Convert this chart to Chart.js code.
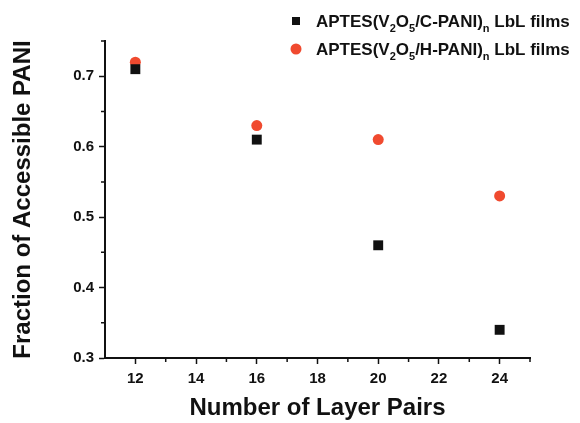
<!DOCTYPE html>
<html>
<head>
<meta charset="utf-8">
<script src="https://cdn.jsdelivr.net/npm/chart.js@4.4.1/dist/chart.umd.min.js"></script>
<style>
    html, body { margin: 0; padding: 0; background: #ffffff; }
    #wrap { width: 580px; height: 423px; position: relative; }
</style>
</head>
<body>
<div id="wrap"><canvas id="fractionChart"></canvas></div>
<script>
// ==========================================
// Accessible PANI fraction vs. layer pairs
// ==========================================

const layerPairs = [12, 16, 20, 24];
const cPaniFraction = [0.71, 0.61, 0.46, 0.34];
const hPaniFraction = [0.72, 0.63, 0.61, 0.53];

const xTickValues = [12, 14, 16, 18, 20, 22, 24];
const yTickValues = [0.3, 0.4, 0.5, 0.6, 0.7];
const xMinorValues = [13, 15, 17, 19, 21, 23, 25];
const yMinorValues = [0.35, 0.45, 0.55, 0.65, 0.75];

// legend text pieces: [text, isSubscript]
const legendC = [["APTES(V", false], ["2", true], ["O", false], ["5", true], ["/C-PANI)", false], ["n", true], [" LbL films", false]];
const legendH = [["APTES(V", false], ["2", true], ["O", false], ["5", true], ["/H-PANI)", false], ["n", true], [" LbL films", false]];

const RED = "#f04a2f";
const BLACK = "#111111";
const FONT = "'Liberation Sans', Arial, sans-serif";

function toPoints(xs, ys) {
    return xs.map((x, i) => ({ x: x, y: ys[i] }));
}

// small outward ticks between the labelled ones
const minorTicks = {
    id: "minorTicks",
    afterDraw(chart) {
        const c = chart.ctx;
        const xs = chart.scales.x;
        const ys = chart.scales.y;
        const area = chart.chartArea;
        c.save();
        c.strokeStyle = BLACK;
        c.lineWidth = 1.5;
        c.beginPath();
        xMinorValues.forEach(v => {
            const px = xs.getPixelForValue(v);
            c.moveTo(px, area.bottom);
            c.lineTo(px, area.bottom + 4);
        });
        yMinorValues.forEach(v => {
            const py = ys.getPixelForValue(v);
            c.moveTo(area.left, py);
            c.lineTo(area.left - 4, py);
        });
        c.stroke();
        c.restore();
    }
};

function drawRichLine(c, parts, x, y) {
    let cx = x;
    parts.forEach(([text, sub]) => {
        c.font = sub ? "bold 11px " + FONT : "bold 17px " + FONT;
        c.fillText(text, cx, sub ? y + 5 : y);
        cx += c.measureText(text).width;
    });
}

// legend with subscripts, drawn by hand
const richLegend = {
    id: "richLegend",
    afterDraw(chart) {
        const c = chart.ctx;
        c.save();
        c.fillStyle = BLACK;
        c.fillRect(292, 17, 8, 8);
        c.beginPath();
        c.fillStyle = RED;
        c.arc(296, 49, 5.5, 0, Math.PI * 2);
        c.fill();
        c.fillStyle = BLACK;
        c.textBaseline = "alphabetic";
        drawRichLine(c, legendC, 316, 27);
        drawRichLine(c, legendH, 316, 55);
        c.restore();
    }
};

const ctx = document.getElementById("fractionChart").getContext("2d");

const fractionChart = new Chart(ctx, {
    type: "scatter",
    data: {
        datasets: [{
            label: "APTES(V2O5/C-PANI)n LbL films",
            data: toPoints(layerPairs, cPaniFraction),
            pointStyle: "rect",
            pointRadius: 7,
            backgroundColor: BLACK,
            borderColor: BLACK,
            borderWidth: 0
        }, {
            label: "APTES(V2O5/H-PANI)n LbL films",
            data: toPoints(layerPairs, hPaniFraction),
            pointStyle: "circle",
            pointRadius: 5.5,
            backgroundColor: RED,
            borderColor: RED,
            borderWidth: 0
        }]
    },
    options: {
        responsive: true,
        maintainAspectRatio: false,
        animation: false,
        layout: {
            padding: { top: 41, right: 50, left: 0, bottom: 0 }
        },
        plugins: {
            legend: { display: false },
            tooltip: { enabled: false }
        },
        scales: {
            x: {
                type: "linear",
                min: 11,
                max: 25,
                afterBuildTicks: s => { s.ticks = xTickValues.map(v => ({ value: v })); },
                afterFit: s => { s.height = 65; },
                border: { display: true, color: BLACK, width: 2 },
                grid: { drawOnChartArea: false, drawTicks: true, tickLength: 6, tickColor: BLACK, tickWidth: 1.5 },
                ticks: {
                    color: BLACK,
                    padding: 6,
                    maxRotation: 0,
                    font: { family: FONT, size: 15, weight: "bold" }
                },
                title: {
                    display: true,
                    text: "Number of Layer Pairs",
                    color: BLACK,
                    padding: { top: 0, bottom: 0 },
                    font: { family: FONT, size: 24, weight: "bold" }
                }
            },
            y: {
                type: "linear",
                min: 0.3,
                max: 0.75,
                afterBuildTicks: s => { s.ticks = yTickValues.map(v => ({ value: v })); },
                afterFit: s => { s.width = 105; },
                border: { display: true, color: BLACK, width: 2 },
                grid: { drawOnChartArea: false, drawTicks: true, tickLength: 6, tickColor: BLACK, tickWidth: 1.5 },
                ticks: {
                    color: BLACK,
                    padding: 5,
                    callback: v => v.toFixed(1),
                    font: { family: FONT, size: 15, weight: "bold" }
                },
                title: {
                    display: true,
                    text: "Fraction of Accessible PANI",
                    color: BLACK,
                    padding: { top: 9, bottom: 0 },
                    font: { family: FONT, size: 24, weight: "bold" }
                }
            }
        }
    },
    plugins: [minorTicks, richLegend]
});
</script>
</body>
</html>
